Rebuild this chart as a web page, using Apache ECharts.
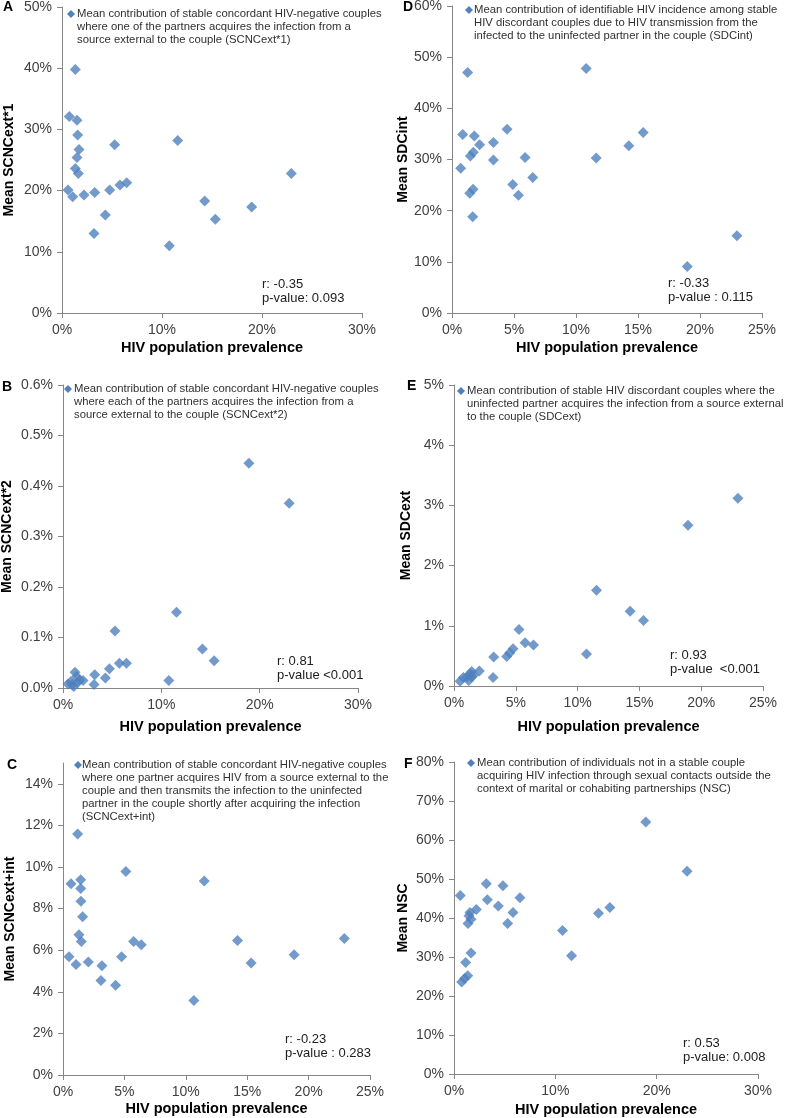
<!DOCTYPE html>
<html>
<head>
<meta charset="utf-8">
<script src="https://cdn.jsdelivr.net/npm/echarts@6/dist/echarts.min.js"></script>
<style>
html,body{margin:0;padding:0;background:#fff;}
#chart{width:785px;height:1118px;}
</style>
</head>
<body>
<div id="chart"></div>
<script>
// ---- Data (values in percent) ----
const aPrev = [1.33,0.73,1.5,1.57,1.7,1.5,1.33,1.63,0.6,1.07,2.2,3.27,4.77,5.8,6.47,5.27,4.33,3.2,11.57,10.73,14.27,15.33,18.97,22.93];
const aVal  = [39.8,32.1,31.5,29.1,26.7,25.4,23.6,22.8,20.1,19.0,19.3,19.7,20.1,20.9,21.3,27.5,16.0,13.0,28.2,11.0,18.3,15.3,17.3,22.8];

const dPrev = [1.26,10.82,0.86,1.8,4.44,15.42,3.34,2.23,1.72,1.48,3.34,5.89,11.63,14.26,0.7,6.51,4.9,5.36,1.7,1.43,1.67,18.97,22.98];
const dVal  = [47.0,47.8,34.9,34.6,35.9,35.3,33.3,32.9,31.4,30.7,29.9,30.4,30.3,32.7,28.3,26.5,25.1,23.0,24.2,23.4,18.8,9.1,15.1];

const bPrev = [18.9,23.0,11.54,5.29,14.18,15.37,6.45,5.73,4.72,4.31,3.22,3.16,10.76,1.22,2.04,1.70,1.39,0.95,0.51,0.81,1.09,1.49];
const bVal  = [0.445,0.366,0.150,0.113,0.077,0.054,0.049,0.049,0.038,0.020,0.026,0.007,0.015,0.031,0.015,0.016,0.023,0.007,0.008,0.013,0.003,0.011];

const ePrev = [22.97,18.93,11.53,14.25,15.33,5.26,5.75,6.43,10.72,4.78,4.5,4.27,3.21,3.16,2.05,1.43,1.30,1.57,1.03,0.76,0.49,1.43,1.19];
const eVal  = [3.12,2.67,1.59,1.24,1.09,0.94,0.72,0.68,0.53,0.62,0.55,0.49,0.48,0.14,0.25,0.24,0.20,0.18,0.15,0.14,0.08,0.15,0.09];

const cPrev = [1.19,5.12,11.5,0.65,1.44,1.44,1.46,1.6,1.3,1.49,5.75,6.37,14.21,22.91,18.82,0.49,4.77,1.06,2.06,3.17,15.32,3.09,4.28,10.66];
const cVal  = [11.59,9.78,9.33,9.20,9.39,8.97,8.35,7.61,6.74,6.42,6.42,6.26,6.47,6.56,5.78,5.68,5.68,5.31,5.43,5.25,5.38,4.54,4.32,3.58];

const fPrev = [18.93,23.0,0.62,3.19,4.83,3.29,6.51,4.37,2.2,1.58,1.48,1.68,1.38,5.82,5.29,14.26,15.38,10.71,11.6,1.68,1.15,1.35,1.05,0.76];
const fVal  = [64.6,52.0,45.8,48.8,48.3,44.7,45.2,43.1,42.2,41.4,40.6,39.7,38.6,41.4,38.6,41.2,42.7,36.8,30.3,31.0,28.6,25.2,24.5,23.6];

const cYTicks = [0,2,4,6,8,10,12,14];

const xTitle = 'HIV population prevalence';
const yTitles = ['Mean SCNCext*1','Mean SDCint','Mean SCNCext*2','Mean SDCext','Mean SCNCext+int','Mean NSC'];
const letters = ['A','D','B','E','C','F'];
const legendTexts = [
 'Mean contribution of stable concordant HIV-negative couples\nwhere one of the partners acquires the infection from a\nsource external to the couple (SCNCext*1)',
 'Mean contribution of identifiable HIV incidence among stable\nHIV discordant couples due to HIV transmission from the\ninfected to the uninfected partner in the couple (SDCint)',
 'Mean contribution of stable concordant HIV-negative couples\nwhere each of the partners acquires the infection from a\nsource external to the couple (SCNCext*2)',
 'Mean contribution of stable HIV discordant couples where the\nuninfected partner acquires the infection from a source external\nto the couple (SDCext)',
 'Mean contribution of stable concordant HIV-negative couples\nwhere one partner acquires HIV from a source external to the\ncouple and then transmits the infection to the uninfected\npartner in the couple shortly after acquiring the infection\n(SCNCext+int)',
 'Mean contribution of individuals not in a stable couple\nacquiring HIV infection through sexual contacts outside the\ncontext of marital or cohabiting partnerships (NSC)'
];
const statTexts = [
 'r: -0.35\np-value: 0.093',
 'r: -0.33\np-value : 0.115',
 'r: 0.81\np-value <0.001',
 'r: 0.93\np-value  <0.001',
 'r: -0.23\np-value : 0.283',
 'r: 0.53\np-value: 0.008'
];
const seriesData = [[aPrev,aVal],[dPrev,dVal],[bPrev,bVal],[ePrev,eVal],[cPrev,cVal],[fPrev,fVal]];

// ---- Layout ----
const FONT = '"Liberation Sans", Arial, sans-serif';
const BLUE = '#4F81BD';
const AX = '#868686';
const panels = [
 {grid:{left:62,top:7,width:300,height:306}, x:{max:30,int:10}, y:{max:50,int:10}, gx:27, gy:46,
  letter:[3,7], leg:[71,14,77], stat:[262,284]},
 {grid:{left:452,top:6,width:310,height:307}, x:{max:25,int:5}, y:{max:60,int:10}, gx:27, gy:41,
  letter:[403,7], leg:[469,10,474], stat:[668,283]},
 {grid:{left:63,top:385,width:295,height:303}, x:{max:30,int:10}, y:{max:0.6,int:0.1,dec:1}, gx:31, gy:49,
  letter:[2,387], leg:[68,389,74], stat:[277,661]},
 {grid:{left:454,top:385,width:309,height:301}, x:{max:25,int:5}, y:{max:5,int:1}, gx:33, gy:41,
  letter:[407,386], leg:[461,391,467], stat:[670,655]},
 {grid:{left:63,top:763,width:307,height:312}, x:{max:25,int:5}, y:{max:15,int:2,custom:cYTicks}, gx:26, gy:46,
  letter:[7,765], leg:[78,765,82], stat:[285,1039]},
 {grid:{left:454,top:762,width:304,height:312}, x:{max:30,int:10}, y:{max:80,int:10}, gx:28, gy:44,
  letter:[404,764], leg:[471,763,477], stat:[683,1043]}
];

const grids=[], xAxes=[], yAxes=[], series=[], graphics=[];
panels.forEach((p,i)=>{
  grids.push(Object.assign({outerBoundsMode:'none', containLabel:false}, p.grid));
  const axisCommon = {
    axisLine:{show:true, lineStyle:{color:AX,width:1}},
    axisTick:{show:true, inside:false, length:5, lineStyle:{color:AX}},
    splitLine:{show:false}
  };
  xAxes.push(Object.assign({}, axisCommon, {
    type:'value', gridIndex:i, min:0, max:p.x.max, interval:p.x.int,
    name:xTitle, nameLocation:'middle', nameGap:p.gx,
    nameTextStyle:{fontFamily:FONT,fontWeight:'bold',color:'#000',fontSize:14.5},
    axisLabel:{fontFamily:FONT,fontSize:14,color:'#404040',margin:10,
      formatter:v=>Math.round(v)+'%'}
  }));
  const ya = Object.assign({}, axisCommon, {
    type:'value', gridIndex:i, min:0, max:p.y.max, interval:p.y.int,
    name:yTitles[i], nameLocation:'middle', nameGap:p.gy,
    nameTextStyle:{fontFamily:FONT,fontWeight:'bold',color:'#000',fontSize:14},
    axisLabel:{fontFamily:FONT,fontSize:14,color:'#404040',margin:10,
      formatter:v=>p.y.dec? v.toFixed(p.y.dec)+'%' : Math.round(v)+'%'}
  });
  if(p.y.custom){
    ya.axisLabel.customValues = p.y.custom;
    ya.axisTick = Object.assign({}, ya.axisTick, {customValues:p.y.custom});
  }
  yAxes.push(ya);
  const [xs,ys] = seriesData[i];
  series.push({
    type:'scatter', xAxisIndex:i, yAxisIndex:i, symbol:'diamond', symbolSize:11,
    itemStyle:{color:BLUE}, data: xs.map((x,k)=>[x,ys[k]]), silent:true
  });
  // panel letter
  graphics.push({type:'text', x:p.letter[0], y:p.letter[1], style:{text:letters[i], font:'bold 14px '+FONT, fill:'#000', verticalAlign:'middle', align:'left'}});
  // legend marker + text
  const [mx,my,tx] = p.leg;
  graphics.push({type:'polygon', shape:{points:[[mx,my-4],[mx+4,my],[mx,my+4],[mx-4,my]]}, style:{fill:BLUE}});
  graphics.push({type:'text', x:tx, y:my-6.5, style:{text:legendTexts[i], font:'11.3px '+FONT, fill:'#303030', lineHeight:13, verticalAlign:'top', align:'left'}});
  // stats
  graphics.push({type:'text', x:p.stat[0], y:p.stat[1]-7, style:{text:statTexts[i], font:'13px '+FONT, fill:'#202020', lineHeight:14.5, verticalAlign:'top', align:'left'}});
});

const chart = echarts.init(document.getElementById('chart'), null, {renderer:'canvas'});
chart.setOption({
  animation:false,
  backgroundColor:'#fff',
  grid:grids, xAxis:xAxes, yAxis:yAxes, series:series, graphic:graphics
});
</script>
</body>
</html>
